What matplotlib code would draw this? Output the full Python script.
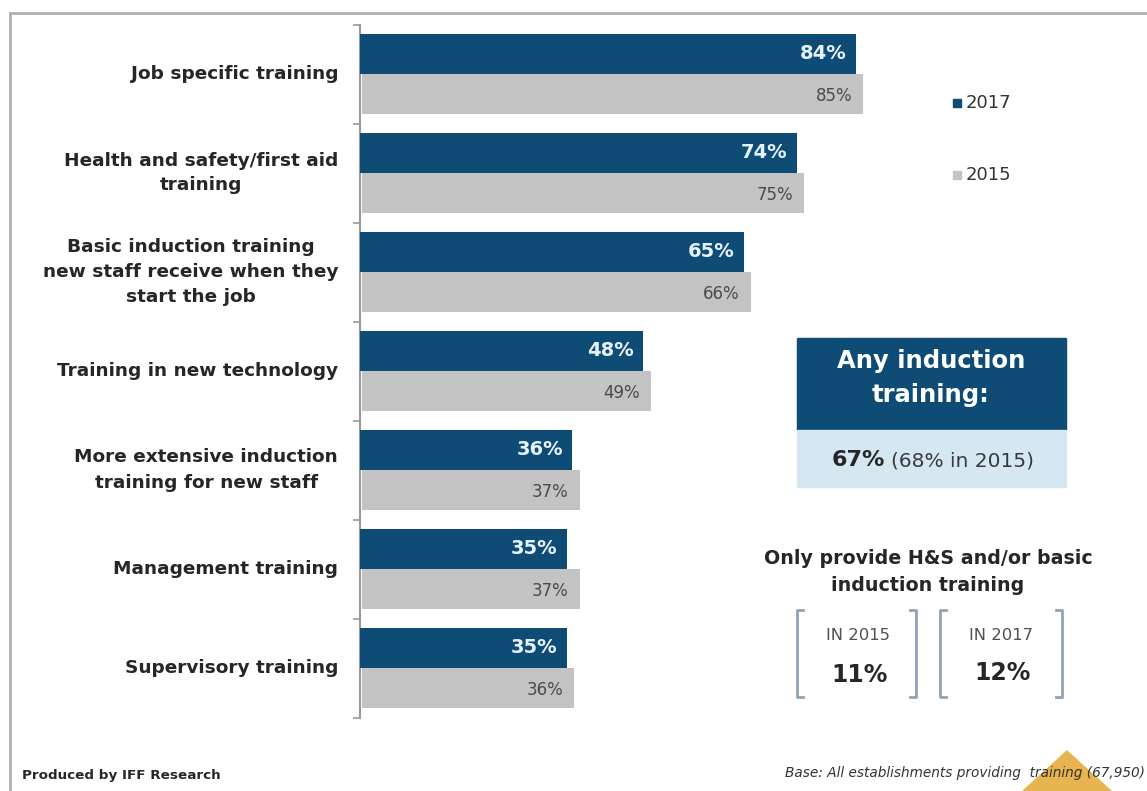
import matplotlib
matplotlib.use("Agg")
import matplotlib.pyplot as plt
from matplotlib.patches import Rectangle, Polygon
from matplotlib.lines import Line2D

plt.rcParams['font.family'] = ['DejaVu Sans']

categories = [
    "Job specific training",
    "Health and safety/first aid\ntraining",
    "Basic induction training\nnew staff receive when they\nstart the job",
    "Training in new technology",
    "More extensive induction\ntraining for new staff",
    "Management training",
    "Supervisory training",
]
values_2017 = [84, 74, 65, 48, 36, 35, 35]
values_2015 = [85, 75, 66, 49, 37, 37, 36]
series_labels = ["2017", "2015"]

any_induction_2017 = 67
any_induction_2015 = 68
only_hs_2015 = 11
only_hs_2017 = 12

DARK = "#0f4c75"
GREY = "#c3c3c3"
LIGHT = "#d5e8f2"
TXT = "#262626"

W, H = 1147, 791
fig = plt.figure(figsize=(W / 100, H / 100), dpi=100)


def fx(x):
    return x / W


def fy(y):
    return 1 - y / H


# frame lines (top and left)
fig.add_artist(Line2D([fx(10), fx(W)], [fy(13), fy(13)], color="#b0b0b0", lw=2))
fig.add_artist(Line2D([fx(10), fx(10)], [fy(13), fy(H)], color="#b0b0b0", lw=2))

# main bar chart
ax = fig.add_axes([fx(360), fy(717.5), 590 / W, 693 / H])
n = len(categories)
ys = list(range(n))
bh = 0.405
ax.barh([y - bh / 2 for y in ys], values_2017, height=bh, color=DARK, zorder=3)
ax.barh([y + bh / 2 for y in ys], values_2015, height=bh, color=GREY, zorder=2,
        left=0.3)
ax.set_xlim(0, 100)
ax.set_ylim(n - 0.5, -0.5)
ax.set_xticks([])
ax.set_yticks([i - 0.5 for i in range(n + 1)])
ax.set_yticklabels([])
ax.tick_params(axis="y", direction="out", length=5, width=1.2, color="#9a9a9a")
for s in ["top", "right", "bottom"]:
    ax.spines[s].set_visible(False)
ax.spines["left"].set_color("#9a9a9a")
ax.spines["left"].set_linewidth(1.5)
ax.patch.set_alpha(0)

for y, cat, v17, v15 in zip(ys, categories, values_2017, values_2015):
    ax.text(-3.7, y, cat, ha="right", va="center", multialignment="center",
            fontsize=13.3, fontweight="bold", color=TXT, linespacing=1.5,
            clip_on=False)
    ax.text(v17 - 1.6, y - bh / 2, f"{v17}%", ha="right", va="center",
            fontsize=14, fontweight="bold", color="#e6f2fb", zorder=5)
    ax.text(v15 - 1.6, y + bh / 2 + 0.02, f"{v15}%", ha="right", va="center",
            fontsize=12, color="#4a4a4a", zorder=5)

# legend
for (yy, col, lab) in [(103, DARK, series_labels[0]), (175, GREY, series_labels[1])]:
    fig.add_artist(Rectangle((fx(953), fy(yy + 4)), 8 / W, 8 / H, color=col))
    fig.text(fx(966), fy(yy), lab, ha="left", va="center", fontsize=13,
             color="#333333")

# "Any induction training" panel
fig.add_artist(Rectangle((fx(797), fy(430)), 269 / W, 92 / H, color=DARK))
fig.add_artist(Rectangle((fx(797), fy(487)), 269 / W, 57 / H, color=LIGHT))
fig.text(fx(931), fy(378), "Any induction\ntraining:", ha="center", va="center",
         fontsize=17.5, fontweight="bold", color="white", linespacing=1.55)
fig.text(fx(885), fy(460), f"{any_induction_2017}%", ha="right", va="center",
         fontsize=16, fontweight="bold", color=TXT)
fig.text(fx(891), fy(461), f"({any_induction_2015}% in 2015)", ha="left",
         va="center", fontsize=14.5, color="#3a3a3a")

# "Only provide H&S" panel
fig.text(fx(928), fy(572), "Only provide H&S and/or basic\ninduction training",
         ha="center", va="center", fontsize=13.7, fontweight="bold", color=TXT,
         linespacing=1.5)

BR = "#8ea4b8"


def bracket(x, side):
    t, b = fy(610), fy(697)
    d = 6 / W if side == "left" else -6 / W
    fig.add_artist(Line2D([fx(x) + d, fx(x), fx(x), fx(x) + d], [t, t, b, b],
                          color=BR, lw=2))


bracket(797, "left")
bracket(916, "right")
bracket(940, "left")
bracket(1062, "right")
fig.text(fx(858), fy(636), "IN 2015", ha="center", va="center", fontsize=11.8,
         color="#505050")
fig.text(fx(860), fy(675), f"{only_hs_2015}%", ha="center", va="center",
         fontsize=17, fontweight="bold", color=TXT)
fig.text(fx(1001), fy(636), "IN 2017", ha="center", va="center", fontsize=11.8,
         color="#505050")
fig.text(fx(1003), fy(673), f"{only_hs_2017}%", ha="center", va="center",
         fontsize=17, fontweight="bold", color=TXT)

# footer
fig.add_artist(Polygon([[fx(1067), fy(751)], [fx(1023), fy(H)], [fx(1111), fy(H)]],
                       closed=True, color="#e8b44f", zorder=1))
fig.text(fx(22), fy(776), "Produced by IFF Research", ha="left", va="center",
         fontsize=9.7, fontweight="bold", color=TXT)
fig.text(fx(1145), fy(773), "Base: All establishments providing  training (67,950)",
         ha="right", va="center", fontsize=9.8, style="italic", color="#333333",
         zorder=3)

fig.savefig("out.png", dpi=100)
